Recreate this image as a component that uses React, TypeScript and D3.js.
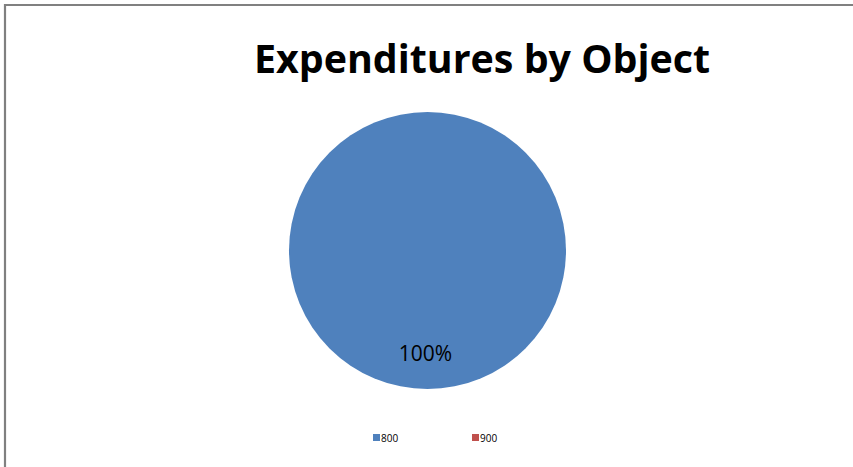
import React from "react";
import * as d3 from "d3";

const categories = ["800", "900"];
const values = [100, 0];
const colors = ["#4F81BD", "#C0504D"];
const title = "Expenditures by Object";

export default function App() {
  const W = 853, H = 467;
  const cx = 427.5, cy = 250.5, r = 138.5;
  const pie = d3.pie<number>().sort(null).value((d) => d);
  const arcs = pie(values);
  const arc = d3.arc<d3.PieArcDatum<number>>().innerRadius(0).outerRadius(r);
  const labelArc = d3.arc<d3.PieArcDatum<number>>().innerRadius(r * 0.74).outerRadius(r * 0.74);
  const total = d3.sum(values);
  const legendX = d3.scalePoint<string>().domain(categories).range([373, 472]);

  return (
    <svg
      width={W}
      height={H}
      style={{ position: "absolute", left: 0, top: 0, background: "#fff" }}
    >
      <rect x={0} y={0} width={W} height={H} fill="#fff" />
      <line x1={4} y1={5} x2={W} y2={5} stroke="#808080" strokeWidth={2.2} />
      <line x1={5} y1={4} x2={5} y2={H} stroke="#808080" strokeWidth={2.2} />
      <text
        x={482}
        y={72.5}
        textAnchor="middle"
        fontFamily="'Open Sans', sans-serif"
        fontWeight={700}
        fontSize={39}
        textLength={456}
        lengthAdjust="spacingAndGlyphs"
        fill="#000"
      >
        {title}
      </text>
      <g transform={`translate(${cx},${cy})`}>
        {arcs.map((a, i) =>
          a.value > 0 ? (
            <path key={i} d={arc(a) || ""} fill={colors[i]} />
          ) : null
        )}
        {arcs.map((a, i) => {
          if (a.value <= 0) return null;
          const [lx, ly] = labelArc.centroid(a);
          return (
            <text
              key={"l" + i}
              x={lx - 2}
              y={ly + 8.5}
              textAnchor="middle"
              fontFamily="'Open Sans', sans-serif"
              fontSize={21}
              fill="#000"
            >
              {Math.round((a.value / total) * 100) + "%"}
            </text>
          );
        })}
      </g>
      {categories.map((c, i) => {
        const x = legendX(c) as number;
        return (
          <g key={c}>
            <rect x={x} y={434} width={7} height={7} fill={colors[i]} />
            <text
              x={x + 8}
              y={441.5}
              fontFamily="'Open Sans', sans-serif"
              fontSize={10}
              fill="#000"
            >
              {c}
            </text>
          </g>
        );
      })}
    </svg>
  );
}
